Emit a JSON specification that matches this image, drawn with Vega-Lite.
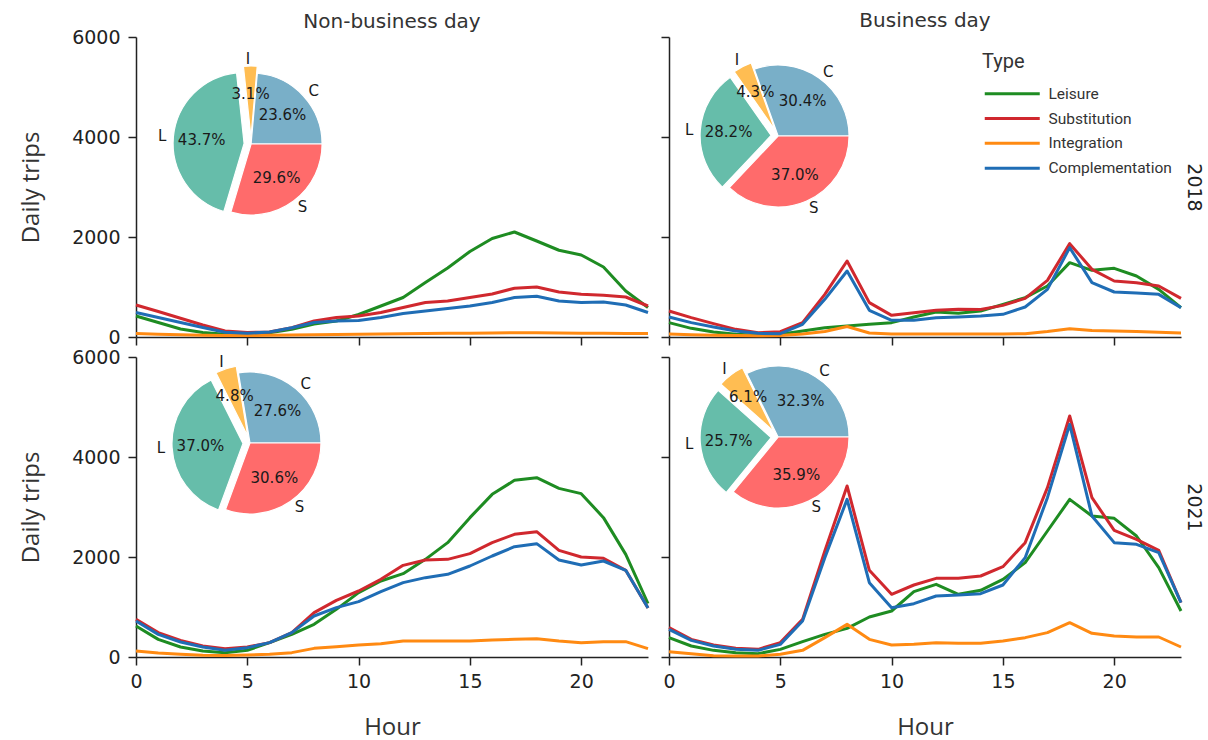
{
  "$schema": "https://vega.github.io/schema/vega-lite/v6.json",
  "background": "white",
  "padding": {"left": 19, "top": 11, "right": 2, "bottom": 2},
  "config": {
    "view": {"stroke": null},
    "font": "DejaVu Sans",
    "axis": {
      "grid": false,
      "domainColor": "#222",
      "domainWidth": 1.5,
      "tickColor": "#222",
      "tickWidth": 1.5,
      "tickSize": 8,
      "labelFont": "DejaVu Sans",
      "labelFontSize": 19,
      "labelColor": "#222",
      "labelFlush": false,
      "titleFont": "Open Sans",
      "titleFontSize": 24,
      "titleFontWeight": "normal",
      "titleColor": "#333"
    },
    "axisX": {"titlePadding": 24, "labelPadding": 7},
    "axisY": {"titlePadding": 28, "labelPadding": 8, "format": "d"},
    "title": {"font": "DejaVu Sans", "fontSize": 20, "fontWeight": "normal", "color": "#333", "frame": "group", "anchor": "middle"}
  },
  "datasets": {
    "lines": [
      {"year": 2018, "day": "Non-business", "hour": 0, "Leisure": 420, "Substitution": 640, "Integration": 70, "Complementation": 490},
      {"year": 2018, "day": "Non-business", "hour": 1, "Leisure": 290, "Substitution": 510, "Integration": 55, "Complementation": 390},
      {"year": 2018, "day": "Non-business", "hour": 2, "Leisure": 160, "Substitution": 375, "Integration": 45, "Complementation": 290},
      {"year": 2018, "day": "Non-business", "hour": 3, "Leisure": 90, "Substitution": 240, "Integration": 35, "Complementation": 190},
      {"year": 2018, "day": "Non-business", "hour": 4, "Leisure": 55, "Substitution": 120, "Integration": 30, "Complementation": 95},
      {"year": 2018, "day": "Non-business", "hour": 5, "Leisure": 45, "Substitution": 90, "Integration": 30, "Complementation": 75},
      {"year": 2018, "day": "Non-business", "hour": 6, "Leisure": 85, "Substitution": 100, "Integration": 35, "Complementation": 100},
      {"year": 2018, "day": "Non-business", "hour": 7, "Leisure": 155, "Substitution": 185, "Integration": 40, "Complementation": 185},
      {"year": 2018, "day": "Non-business", "hour": 8, "Leisure": 260, "Substitution": 320, "Integration": 45, "Complementation": 290},
      {"year": 2018, "day": "Non-business", "hour": 9, "Leisure": 320, "Substitution": 390, "Integration": 50, "Complementation": 320},
      {"year": 2018, "day": "Non-business", "hour": 10, "Leisure": 450, "Substitution": 420, "Integration": 55, "Complementation": 330},
      {"year": 2018, "day": "Non-business", "hour": 11, "Leisure": 620, "Substitution": 490, "Integration": 60, "Complementation": 390},
      {"year": 2018, "day": "Non-business", "hour": 12, "Leisure": 790, "Substitution": 590, "Integration": 65, "Complementation": 470},
      {"year": 2018, "day": "Non-business", "hour": 13, "Leisure": 1090, "Substitution": 690, "Integration": 70, "Complementation": 520},
      {"year": 2018, "day": "Non-business", "hour": 14, "Leisure": 1380, "Substitution": 720, "Integration": 75, "Complementation": 570},
      {"year": 2018, "day": "Non-business", "hour": 15, "Leisure": 1710, "Substitution": 790, "Integration": 75, "Complementation": 620},
      {"year": 2018, "day": "Non-business", "hour": 16, "Leisure": 1970, "Substitution": 860, "Integration": 80, "Complementation": 690},
      {"year": 2018, "day": "Non-business", "hour": 17, "Leisure": 2100, "Substitution": 975, "Integration": 85, "Complementation": 790},
      {"year": 2018, "day": "Non-business", "hour": 18, "Leisure": 1920, "Substitution": 1000, "Integration": 85, "Complementation": 815},
      {"year": 2018, "day": "Non-business", "hour": 19, "Leisure": 1735, "Substitution": 900, "Integration": 80, "Complementation": 720},
      {"year": 2018, "day": "Non-business", "hour": 20, "Leisure": 1640, "Substitution": 855, "Integration": 75, "Complementation": 690},
      {"year": 2018, "day": "Non-business", "hour": 21, "Leisure": 1400, "Substitution": 835, "Integration": 75, "Complementation": 700},
      {"year": 2018, "day": "Non-business", "hour": 22, "Leisure": 920, "Substitution": 800, "Integration": 70, "Complementation": 640},
      {"year": 2018, "day": "Non-business", "hour": 23, "Leisure": 590, "Substitution": 620, "Integration": 70, "Complementation": 490},

      {"year": 2018, "day": "Business", "hour": 0, "Leisure": 287, "Substitution": 520, "Integration": 60, "Complementation": 400},
      {"year": 2018, "day": "Business", "hour": 1, "Leisure": 173, "Substitution": 387, "Integration": 45, "Complementation": 287},
      {"year": 2018, "day": "Business", "hour": 2, "Leisure": 100, "Substitution": 267, "Integration": 35, "Complementation": 200},
      {"year": 2018, "day": "Business", "hour": 3, "Leisure": 53, "Substitution": 153, "Integration": 30, "Complementation": 120},
      {"year": 2018, "day": "Business", "hour": 4, "Leisure": 35, "Substitution": 87, "Integration": 25, "Complementation": 73},
      {"year": 2018, "day": "Business", "hour": 5, "Leisure": 53, "Substitution": 107, "Integration": 30, "Complementation": 67},
      {"year": 2018, "day": "Business", "hour": 6, "Leisure": 120, "Substitution": 287, "Integration": 60, "Complementation": 253},
      {"year": 2018, "day": "Business", "hour": 7, "Leisure": 187, "Substitution": 853, "Integration": 110, "Complementation": 753},
      {"year": 2018, "day": "Business", "hour": 8, "Leisure": 220, "Substitution": 1520, "Integration": 210, "Complementation": 1320},
      {"year": 2018, "day": "Business", "hour": 9, "Leisure": 253, "Substitution": 687, "Integration": 80, "Complementation": 533},
      {"year": 2018, "day": "Business", "hour": 10, "Leisure": 287, "Substitution": 433, "Integration": 60, "Complementation": 333},
      {"year": 2018, "day": "Business", "hour": 11, "Leisure": 400, "Substitution": 487, "Integration": 60, "Complementation": 333},
      {"year": 2018, "day": "Business", "hour": 12, "Leisure": 500, "Substitution": 533, "Integration": 60, "Complementation": 387},
      {"year": 2018, "day": "Business", "hour": 13, "Leisure": 473, "Substitution": 553, "Integration": 60, "Complementation": 400},
      {"year": 2018, "day": "Business", "hour": 14, "Leisure": 520, "Substitution": 549, "Integration": 60, "Complementation": 420},
      {"year": 2018, "day": "Business", "hour": 15, "Leisure": 653, "Substitution": 633, "Integration": 60, "Complementation": 453},
      {"year": 2018, "day": "Business", "hour": 16, "Leisure": 787, "Substitution": 773, "Integration": 65, "Complementation": 600},
      {"year": 2018, "day": "Business", "hour": 17, "Leisure": 1020, "Substitution": 1133, "Integration": 110, "Complementation": 953},
      {"year": 2018, "day": "Business", "hour": 18, "Leisure": 1487, "Substitution": 1867, "Integration": 167, "Complementation": 1787},
      {"year": 2018, "day": "Business", "hour": 19, "Leisure": 1333, "Substitution": 1353, "Integration": 130, "Complementation": 1087},
      {"year": 2018, "day": "Business", "hour": 20, "Leisure": 1373, "Substitution": 1120, "Integration": 120, "Complementation": 900},
      {"year": 2018, "day": "Business", "hour": 21, "Leisure": 1220, "Substitution": 1087, "Integration": 110, "Complementation": 880},
      {"year": 2018, "day": "Business", "hour": 22, "Leisure": 953, "Substitution": 1020, "Integration": 95, "Complementation": 853},
      {"year": 2018, "day": "Business", "hour": 23, "Leisure": 587, "Substitution": 773, "Integration": 80, "Complementation": 587},

      {"year": 2021, "day": "Non-business", "hour": 0, "Leisure": 620, "Substitution": 753, "Integration": 120, "Complementation": 720},
      {"year": 2021, "day": "Non-business", "hour": 1, "Leisure": 353, "Substitution": 487, "Integration": 80, "Complementation": 453},
      {"year": 2021, "day": "Non-business", "hour": 2, "Leisure": 200, "Substitution": 333, "Integration": 53, "Complementation": 300},
      {"year": 2021, "day": "Non-business", "hour": 3, "Leisure": 120, "Substitution": 220, "Integration": 35, "Complementation": 200},
      {"year": 2021, "day": "Non-business", "hour": 4, "Leisure": 87, "Substitution": 167, "Integration": 30, "Complementation": 133},
      {"year": 2021, "day": "Non-business", "hour": 5, "Leisure": 133, "Substitution": 200, "Integration": 40, "Complementation": 187},
      {"year": 2021, "day": "Non-business", "hour": 6, "Leisure": 287, "Substitution": 287, "Integration": 53, "Complementation": 287},
      {"year": 2021, "day": "Non-business", "hour": 7, "Leisure": 453, "Substitution": 487, "Integration": 87, "Complementation": 487},
      {"year": 2021, "day": "Non-business", "hour": 8, "Leisure": 653, "Substitution": 887, "Integration": 173, "Complementation": 820},
      {"year": 2021, "day": "Non-business", "hour": 9, "Leisure": 953, "Substitution": 1133, "Integration": 207, "Complementation": 987},
      {"year": 2021, "day": "Non-business", "hour": 10, "Leisure": 1287, "Substitution": 1320, "Integration": 240, "Complementation": 1107},
      {"year": 2021, "day": "Non-business", "hour": 11, "Leisure": 1520, "Substitution": 1553, "Integration": 267, "Complementation": 1307},
      {"year": 2021, "day": "Non-business", "hour": 12, "Leisure": 1667, "Substitution": 1833, "Integration": 320, "Complementation": 1487},
      {"year": 2021, "day": "Non-business", "hour": 13, "Leisure": 1953, "Substitution": 1940, "Integration": 320, "Complementation": 1587},
      {"year": 2021, "day": "Non-business", "hour": 14, "Leisure": 2287, "Substitution": 1953, "Integration": 320, "Complementation": 1653},
      {"year": 2021, "day": "Non-business", "hour": 15, "Leisure": 2787, "Substitution": 2067, "Integration": 320, "Complementation": 1820},
      {"year": 2021, "day": "Non-business", "hour": 16, "Leisure": 3253, "Substitution": 2287, "Integration": 340, "Complementation": 2020},
      {"year": 2021, "day": "Non-business", "hour": 17, "Leisure": 3533, "Substitution": 2453, "Integration": 353, "Complementation": 2207},
      {"year": 2021, "day": "Non-business", "hour": 18, "Leisure": 3587, "Substitution": 2507, "Integration": 367, "Complementation": 2267},
      {"year": 2021, "day": "Non-business", "hour": 19, "Leisure": 3373, "Substitution": 2133, "Integration": 320, "Complementation": 1940},
      {"year": 2021, "day": "Non-business", "hour": 20, "Leisure": 3267, "Substitution": 2000, "Integration": 287, "Complementation": 1840},
      {"year": 2021, "day": "Non-business", "hour": 21, "Leisure": 2787, "Substitution": 1973, "Integration": 307, "Complementation": 1920},
      {"year": 2021, "day": "Non-business", "hour": 22, "Leisure": 2053, "Substitution": 1733, "Integration": 307, "Complementation": 1733},
      {"year": 2021, "day": "Non-business", "hour": 23, "Leisure": 1070, "Substitution": 980, "Integration": 167, "Complementation": 980},

      {"year": 2021, "day": "Business", "hour": 0, "Leisure": 387, "Substitution": 587, "Integration": 107, "Complementation": 553},
      {"year": 2021, "day": "Business", "hour": 1, "Leisure": 220, "Substitution": 353, "Integration": 67, "Complementation": 333},
      {"year": 2021, "day": "Business", "hour": 2, "Leisure": 133, "Substitution": 240, "Integration": 27, "Complementation": 220},
      {"year": 2021, "day": "Business", "hour": 3, "Leisure": 87, "Substitution": 173, "Integration": 20, "Complementation": 153},
      {"year": 2021, "day": "Business", "hour": 4, "Leisure": 67, "Substitution": 153, "Integration": 20, "Complementation": 133},
      {"year": 2021, "day": "Business", "hour": 5, "Leisure": 153, "Substitution": 287, "Integration": 53, "Complementation": 253},
      {"year": 2021, "day": "Business", "hour": 6, "Leisure": 307, "Substitution": 753, "Integration": 133, "Complementation": 720},
      {"year": 2021, "day": "Business", "hour": 7, "Leisure": 453, "Substitution": 2120, "Integration": 387, "Complementation": 1987},
      {"year": 2021, "day": "Business", "hour": 8, "Leisure": 573, "Substitution": 3420, "Integration": 653, "Complementation": 3153},
      {"year": 2021, "day": "Business", "hour": 9, "Leisure": 800, "Substitution": 1733, "Integration": 353, "Complementation": 1487},
      {"year": 2021, "day": "Business", "hour": 10, "Leisure": 920, "Substitution": 1253, "Integration": 240, "Complementation": 987},
      {"year": 2021, "day": "Business", "hour": 11, "Leisure": 1307, "Substitution": 1440, "Integration": 253, "Complementation": 1067},
      {"year": 2021, "day": "Business", "hour": 12, "Leisure": 1453, "Substitution": 1573, "Integration": 287, "Complementation": 1220},
      {"year": 2021, "day": "Business", "hour": 13, "Leisure": 1253, "Substitution": 1573, "Integration": 273, "Complementation": 1240},
      {"year": 2021, "day": "Business", "hour": 14, "Leisure": 1333, "Substitution": 1620, "Integration": 273, "Complementation": 1267},
      {"year": 2021, "day": "Business", "hour": 15, "Leisure": 1553, "Substitution": 1807, "Integration": 320, "Complementation": 1440},
      {"year": 2021, "day": "Business", "hour": 16, "Leisure": 1887, "Substitution": 2287, "Integration": 387, "Complementation": 1987},
      {"year": 2021, "day": "Business", "hour": 17, "Leisure": 2520, "Substitution": 3387, "Integration": 487, "Complementation": 3187},
      {"year": 2021, "day": "Business", "hour": 18, "Leisure": 3153, "Substitution": 4820, "Integration": 687, "Complementation": 4653},
      {"year": 2021, "day": "Business", "hour": 19, "Leisure": 2820, "Substitution": 3187, "Integration": 473, "Complementation": 2820},
      {"year": 2021, "day": "Business", "hour": 20, "Leisure": 2773, "Substitution": 2533, "Integration": 420, "Complementation": 2287},
      {"year": 2021, "day": "Business", "hour": 21, "Leisure": 2420, "Substitution": 2353, "Integration": 400, "Complementation": 2253},
      {"year": 2021, "day": "Business", "hour": 22, "Leisure": 1787, "Substitution": 2133, "Integration": 400, "Complementation": 2087},
      {"year": 2021, "day": "Business", "hour": 23, "Leisure": 920, "Substitution": 1087, "Integration": 200, "Complementation": 1087}
    ],
    "pie": [
      {"year": 2018, "day": "Non-business", "slice": "C", "share": 0.236},
      {"year": 2018, "day": "Non-business", "slice": "S", "share": 0.296},
      {"year": 2018, "day": "Non-business", "slice": "L", "share": 0.437},
      {"year": 2018, "day": "Non-business", "slice": "I", "share": 0.031},
      {"year": 2018, "day": "Business", "slice": "C", "share": 0.304},
      {"year": 2018, "day": "Business", "slice": "S", "share": 0.370},
      {"year": 2018, "day": "Business", "slice": "L", "share": 0.282},
      {"year": 2018, "day": "Business", "slice": "I", "share": 0.043},
      {"year": 2021, "day": "Non-business", "slice": "C", "share": 0.276},
      {"year": 2021, "day": "Non-business", "slice": "S", "share": 0.306},
      {"year": 2021, "day": "Non-business", "slice": "L", "share": 0.370},
      {"year": 2021, "day": "Non-business", "slice": "I", "share": 0.048},
      {"year": 2021, "day": "Business", "slice": "C", "share": 0.323},
      {"year": 2021, "day": "Business", "slice": "S", "share": 0.359},
      {"year": 2021, "day": "Business", "slice": "L", "share": 0.257},
      {"year": 2021, "day": "Business", "slice": "I", "share": 0.061}
    ]
  },
  "columns": 2,
  "spacing": {"row": 20, "column": 21},
  "bounds": "flush",
  "resolve": {"scale": {"color": "independent"}, "legend": {"color": "independent"}},
  "concat": [
    {
      "width": 512, "height": 300,
      "title": {"text": "Non-business day", "offset": -4},
      "layer": [
        {
          "data": {"name": "lines"},
          "transform": [
            {"filter": "datum.year == 2018 && datum.day == 'Non-business'"},
            {"fold": ["Leisure", "Substitution", "Integration", "Complementation"], "as": ["type", "trips"]}
          ],
          "mark": {"type": "line", "strokeWidth": 3, "strokeJoin": "round"},
          "encoding": {
            "x": {"field": "hour", "type": "quantitative", "scale": {"domain": [0, 23], "nice": false}, "axis": {"values": [0, 5, 10, 15, 20], "labels": false, "title": null}},
            "y": {"field": "trips", "type": "quantitative", "scale": {"domain": [0, 6000], "nice": false}, "axis": {"values": [0, 2000, 4000, 6000], "title": "Daily trips"}},
            "color": {"field": "type", "type": "nominal", "scale": {"domain": ["Leisure", "Substitution", "Integration", "Complementation"], "range": ["#1E8C22", "#D0282E", "#FF8A12", "#1F6DB5"]}, "legend": null}
          }
        },
        {
          "data": {"name": "pie"},
          "transform": [{"filter": "datum.year == 2018 && datum.day == 'Non-business'"}],
          "encoding": {
            "x": {"datum": 5.17, "type": "quantitative"},
            "y": {"datum": 3860, "type": "quantitative"},
            "theta": {"field": "share", "type": "quantitative", "stack": "normalize", "scale": {"domain": [0, 1], "range": [1.5708, 7.854]}},
            "order": {"field": "slice", "sort": "descending"}
          },
          "layer": [
            {"mark": {"type": "arc", "outerRadius": 71, "stroke": "white", "strokeWidth": 1.2},
             "encoding": {"fill": {"field": "slice", "type": "nominal", "scale": {"domain": ["C", "S", "L", "I"], "range": ["#79AFC8", "#FF6B6B", "#66BDAA", "#FFBD52"]}, "legend": null},
                          "opacity": {"condition": {"test": "datum.slice == 'C' || datum.slice == 'S'", "value": 1}, "value": 0}}},
            {"mark": {"type": "arc", "outerRadius": 71, "stroke": "white", "strokeWidth": 1.2, "xOffset": -7.0, "yOffset": -0.6},
             "encoding": {"fill": {"field": "slice", "type": "nominal", "legend": null},
                          "opacity": {"condition": {"test": "datum.slice == 'L'", "value": 1}, "value": 0}}},
            {"mark": {"type": "arc", "outerRadius": 71, "stroke": "white", "strokeWidth": 1.2, "xOffset": -0.1, "yOffset": -7.0},
             "encoding": {"fill": {"field": "slice", "type": "nominal", "legend": null},
                          "opacity": {"condition": {"test": "datum.slice == 'I'", "value": 1}, "value": 0}}},
            {"mark": {"type": "text", "radius": 42.6, "fontSize": 15, "color": "#1a1a1a"},
             "encoding": {"detail": {"field": "slice"}, "text": {"condition": {"test": "datum.slice == 'C' || datum.slice == 'S'", "field": "share", "type": "quantitative", "format": ".1%"}, "value": ""}}},
            {"mark": {"type": "text", "radius": 42.6, "fontSize": 15, "color": "#1a1a1a", "xOffset": -7.0, "yOffset": -0.6},
             "encoding": {"detail": {"field": "slice"}, "text": {"condition": {"test": "datum.slice == 'L'", "field": "share", "type": "quantitative", "format": ".1%"}, "value": ""}}},
            {"mark": {"type": "text", "radius": 42.6, "fontSize": 15, "color": "#1a1a1a", "xOffset": -0.1, "yOffset": -7.0},
             "encoding": {"detail": {"field": "slice"}, "text": {"condition": {"test": "datum.slice == 'I'", "field": "share", "type": "quantitative", "format": ".1%"}, "value": ""}}},
            {"mark": {"type": "text", "radius": 78, "fontSize": 15, "color": "#1a1a1a", "align": "left"},
             "encoding": {"detail": {"field": "slice"}, "text": {"condition": {"test": "datum.slice == 'C' || datum.slice == 'S'", "field": "slice"}, "value": ""}}},
            {"mark": {"type": "text", "radius": 78, "fontSize": 15, "color": "#1a1a1a", "align": "right", "xOffset": -7.0, "yOffset": -0.6},
             "encoding": {"detail": {"field": "slice"}, "text": {"condition": {"test": "datum.slice == 'L'", "field": "slice"}, "value": ""}}},
            {"mark": {"type": "text", "radius": 78, "fontSize": 15, "color": "#1a1a1a", "align": "right", "xOffset": -0.1, "yOffset": -7.0},
             "encoding": {"detail": {"field": "slice"}, "text": {"condition": {"test": "datum.slice == 'I'", "field": "slice"}, "value": ""}}}
          ]
        }
      ]
    },
    {
      "width": 512, "height": 300,
      "title": {"text": "Business day", "offset": 5},
      "resolve": {"axis": {"y": "independent"}},
      "layer": [
        {
          "data": {"name": "lines"},
          "transform": [
            {"filter": "datum.year == 2018 && datum.day == 'Business'"},
            {"fold": ["Leisure", "Substitution", "Integration", "Complementation"], "as": ["type", "trips"]}
          ],
          "mark": {"type": "line", "strokeWidth": 3, "strokeJoin": "round"},
          "encoding": {
            "x": {"field": "hour", "type": "quantitative", "scale": {"domain": [0, 23], "nice": false}, "axis": {"values": [0, 5, 10, 15, 20], "labels": false, "title": null}},
            "y": {"field": "trips", "type": "quantitative", "scale": {"domain": [0, 6000], "nice": false}, "axis": {"orient": "left", "values": [0, 2000, 4000, 6000], "labels": false, "title": null}},
            "color": {"field": "type", "type": "nominal", "scale": {"domain": ["Leisure", "Substitution", "Integration", "Complementation"], "range": ["#1E8C22", "#D0282E", "#FF8A12", "#1F6DB5"]},
                      "legend": {"title": "Type", "orient": "none", "legendX": 313, "legendY": 15, "symbolType": "M-1,0H10", "symbolSize": 100, "symbolStrokeWidth": 3, "labelOffset": 51, "rowPadding": 7.8, "titlePadding": 14, "titleFont": "Roboto", "titleFontSize": 20, "titleFontWeight": "normal", "titleColor": "#333", "labelFont": "Roboto", "labelFontSize": 15.5, "labelColor": "#333"}}
          }
        },
        {
          "data": {"name": "pie"},
          "transform": [{"filter": "datum.year == 2018 && datum.day == 'Business'"}],
          "encoding": {
            "x": {"datum": 4.9, "type": "quantitative"},
            "y": {"datum": 4020, "type": "quantitative", "axis": {"orient": "right", "title": "2018", "labels": false, "ticks": false, "domain": false, "titleAngle": 90, "titlePadding": 2, "titleFont": "DejaVu Sans", "titleFontSize": 19, "titleColor": "#222"}},
            "theta": {"field": "share", "type": "quantitative", "stack": "normalize", "scale": {"domain": [0, 1], "range": [1.5708, 7.854]}},
            "order": {"field": "slice", "sort": "descending"}
          },
          "layer": [
            {"mark": {"type": "arc", "outerRadius": 71, "stroke": "white", "strokeWidth": 1.2},
             "encoding": {"fill": {"field": "slice", "type": "nominal", "scale": {"domain": ["C", "S", "L", "I"], "range": ["#79AFC8", "#FF6B6B", "#66BDAA", "#FFBD52"]}, "legend": null},
                          "opacity": {"condition": {"test": "datum.slice == 'C' || datum.slice == 'S'", "value": 1}, "value": 0}}},
            {"mark": {"type": "arc", "outerRadius": 71, "stroke": "white", "strokeWidth": 1.2, "xOffset": -7.0, "yOffset": -0.5},
             "encoding": {"fill": {"field": "slice", "type": "nominal", "legend": null},
                          "opacity": {"condition": {"test": "datum.slice == 'L'", "value": 1}, "value": 0}}},
            {"mark": {"type": "arc", "outerRadius": 71, "stroke": "white", "strokeWidth": 1.2, "xOffset": -3.2, "yOffset": -6.2},
             "encoding": {"fill": {"field": "slice", "type": "nominal", "legend": null},
                          "opacity": {"condition": {"test": "datum.slice == 'I'", "value": 1}, "value": 0}}},
            {"mark": {"type": "text", "radius": 42.6, "fontSize": 15, "color": "#1a1a1a"},
             "encoding": {"detail": {"field": "slice"}, "text": {"condition": {"test": "datum.slice == 'C' || datum.slice == 'S'", "field": "share", "type": "quantitative", "format": ".1%"}, "value": ""}}},
            {"mark": {"type": "text", "radius": 42.6, "fontSize": 15, "color": "#1a1a1a", "xOffset": -7.0, "yOffset": -0.5},
             "encoding": {"detail": {"field": "slice"}, "text": {"condition": {"test": "datum.slice == 'L'", "field": "share", "type": "quantitative", "format": ".1%"}, "value": ""}}},
            {"mark": {"type": "text", "radius": 42.6, "fontSize": 15, "color": "#1a1a1a", "xOffset": -3.2, "yOffset": -6.2},
             "encoding": {"detail": {"field": "slice"}, "text": {"condition": {"test": "datum.slice == 'I'", "field": "share", "type": "quantitative", "format": ".1%"}, "value": ""}}},
            {"mark": {"type": "text", "radius": 78, "fontSize": 15, "color": "#1a1a1a", "align": "left"},
             "encoding": {"detail": {"field": "slice"}, "text": {"condition": {"test": "datum.slice == 'C' || datum.slice == 'S'", "field": "slice"}, "value": ""}}},
            {"mark": {"type": "text", "radius": 78, "fontSize": 15, "color": "#1a1a1a", "align": "right", "xOffset": -7.0, "yOffset": -0.5},
             "encoding": {"detail": {"field": "slice"}, "text": {"condition": {"test": "datum.slice == 'L'", "field": "slice"}, "value": ""}}},
            {"mark": {"type": "text", "radius": 78, "fontSize": 15, "color": "#1a1a1a", "align": "right", "xOffset": -3.2, "yOffset": -6.2},
             "encoding": {"detail": {"field": "slice"}, "text": {"condition": {"test": "datum.slice == 'I'", "field": "slice"}, "value": ""}}}
          ]
        }
      ]
    },
    {
      "width": 512, "height": 300,
      "layer": [
        {
          "data": {"name": "lines"},
          "transform": [
            {"filter": "datum.year == 2021 && datum.day == 'Non-business'"},
            {"fold": ["Leisure", "Substitution", "Integration", "Complementation"], "as": ["type", "trips"]}
          ],
          "mark": {"type": "line", "strokeWidth": 3, "strokeJoin": "round"},
          "encoding": {
            "x": {"field": "hour", "type": "quantitative", "scale": {"domain": [0, 23], "nice": false}, "axis": {"values": [0, 5, 10, 15, 20], "title": "Hour"}},
            "y": {"field": "trips", "type": "quantitative", "scale": {"domain": [0, 6000], "nice": false}, "axis": {"values": [0, 2000, 4000, 6000], "title": "Daily trips"}},
            "color": {"field": "type", "type": "nominal", "scale": {"domain": ["Leisure", "Substitution", "Integration", "Complementation"], "range": ["#1E8C22", "#D0282E", "#FF8A12", "#1F6DB5"]}, "legend": null}
          }
        },
        {
          "data": {"name": "pie"},
          "transform": [{"filter": "datum.year == 2021 && datum.day == 'Non-business'"}],
          "encoding": {
            "x": {"datum": 5.12, "type": "quantitative"},
            "y": {"datum": 4280, "type": "quantitative"},
            "theta": {"field": "share", "type": "quantitative", "stack": "normalize", "scale": {"domain": [0, 1], "range": [1.5708, 7.854]}},
            "order": {"field": "slice", "sort": "descending"}
          },
          "layer": [
            {"mark": {"type": "arc", "outerRadius": 71, "stroke": "white", "strokeWidth": 1.2},
             "encoding": {"fill": {"field": "slice", "type": "nominal", "scale": {"domain": ["C", "S", "L", "I"], "range": ["#79AFC8", "#FF6B6B", "#66BDAA", "#FFBD52"]}, "legend": null},
                          "opacity": {"condition": {"test": "datum.slice == 'C' || datum.slice == 'S'", "value": 1}, "value": 0}}},
            {"mark": {"type": "arc", "outerRadius": 71, "stroke": "white", "strokeWidth": 1.2, "xOffset": -7.0, "yOffset": 0.4},
             "encoding": {"fill": {"field": "slice", "type": "nominal", "legend": null},
                          "opacity": {"condition": {"test": "datum.slice == 'L'", "value": 1}, "value": 0}}},
            {"mark": {"type": "arc", "outerRadius": 71, "stroke": "white", "strokeWidth": 1.2, "xOffset": -2.2, "yOffset": -6.7},
             "encoding": {"fill": {"field": "slice", "type": "nominal", "legend": null},
                          "opacity": {"condition": {"test": "datum.slice == 'I'", "value": 1}, "value": 0}}},
            {"mark": {"type": "text", "radius": 42.6, "fontSize": 15, "color": "#1a1a1a"},
             "encoding": {"detail": {"field": "slice"}, "text": {"condition": {"test": "datum.slice == 'C' || datum.slice == 'S'", "field": "share", "type": "quantitative", "format": ".1%"}, "value": ""}}},
            {"mark": {"type": "text", "radius": 42.6, "fontSize": 15, "color": "#1a1a1a", "xOffset": -7.0, "yOffset": 0.4},
             "encoding": {"detail": {"field": "slice"}, "text": {"condition": {"test": "datum.slice == 'L'", "field": "share", "type": "quantitative", "format": ".1%"}, "value": ""}}},
            {"mark": {"type": "text", "radius": 42.6, "fontSize": 15, "color": "#1a1a1a", "xOffset": -2.2, "yOffset": -6.7},
             "encoding": {"detail": {"field": "slice"}, "text": {"condition": {"test": "datum.slice == 'I'", "field": "share", "type": "quantitative", "format": ".1%"}, "value": ""}}},
            {"mark": {"type": "text", "radius": 78, "fontSize": 15, "color": "#1a1a1a", "align": "left"},
             "encoding": {"detail": {"field": "slice"}, "text": {"condition": {"test": "datum.slice == 'C' || datum.slice == 'S'", "field": "slice"}, "value": ""}}},
            {"mark": {"type": "text", "radius": 78, "fontSize": 15, "color": "#1a1a1a", "align": "right", "xOffset": -7.0, "yOffset": 0.4},
             "encoding": {"detail": {"field": "slice"}, "text": {"condition": {"test": "datum.slice == 'L'", "field": "slice"}, "value": ""}}},
            {"mark": {"type": "text", "radius": 78, "fontSize": 15, "color": "#1a1a1a", "align": "right", "xOffset": -2.2, "yOffset": -6.7},
             "encoding": {"detail": {"field": "slice"}, "text": {"condition": {"test": "datum.slice == 'I'", "field": "slice"}, "value": ""}}}
          ]
        }
      ]
    },
    {
      "width": 512, "height": 300,
      "resolve": {"axis": {"y": "independent"}},
      "layer": [
        {
          "data": {"name": "lines"},
          "transform": [
            {"filter": "datum.year == 2021 && datum.day == 'Business'"},
            {"fold": ["Leisure", "Substitution", "Integration", "Complementation"], "as": ["type", "trips"]}
          ],
          "mark": {"type": "line", "strokeWidth": 3, "strokeJoin": "round"},
          "encoding": {
            "x": {"field": "hour", "type": "quantitative", "scale": {"domain": [0, 23], "nice": false}, "axis": {"values": [0, 5, 10, 15, 20], "title": "Hour"}},
            "y": {"field": "trips", "type": "quantitative", "scale": {"domain": [0, 6000], "nice": false}, "axis": {"orient": "left", "values": [0, 2000, 4000, 6000], "labels": false, "title": null}},
            "color": {"field": "type", "type": "nominal", "scale": {"domain": ["Leisure", "Substitution", "Integration", "Complementation"], "range": ["#1E8C22", "#D0282E", "#FF8A12", "#1F6DB5"]}, "legend": null}
          }
        },
        {
          "data": {"name": "pie"},
          "transform": [{"filter": "datum.year == 2021 && datum.day == 'Business'"}],
          "encoding": {
            "x": {"datum": 4.9, "type": "quantitative"},
            "y": {"datum": 4400, "type": "quantitative", "axis": {"orient": "right", "title": "2021", "labels": false, "ticks": false, "domain": false, "titleAngle": 90, "titlePadding": 2, "titleFont": "DejaVu Sans", "titleFontSize": 19, "titleColor": "#222"}},
            "theta": {"field": "share", "type": "quantitative", "stack": "normalize", "scale": {"domain": [0, 1], "range": [1.5708, 7.854]}},
            "order": {"field": "slice", "sort": "descending"}
          },
          "layer": [
            {"mark": {"type": "arc", "outerRadius": 71, "stroke": "white", "strokeWidth": 1.2},
             "encoding": {"fill": {"field": "slice", "type": "nominal", "scale": {"domain": ["C", "S", "L", "I"], "range": ["#79AFC8", "#FF6B6B", "#66BDAA", "#FFBD52"]}, "legend": null},
                          "opacity": {"condition": {"test": "datum.slice == 'C' || datum.slice == 'S'", "value": 1}, "value": 0}}},
            {"mark": {"type": "arc", "outerRadius": 71, "stroke": "white", "strokeWidth": 1.2, "xOffset": -7.0, "yOffset": 0.55},
             "encoding": {"fill": {"field": "slice", "type": "nominal", "legend": null},
                          "opacity": {"condition": {"test": "datum.slice == 'L'", "value": 1}, "value": 0}}},
            {"mark": {"type": "arc", "outerRadius": 71, "stroke": "white", "strokeWidth": 1.2, "xOffset": -4.2, "yOffset": -5.6},
             "encoding": {"fill": {"field": "slice", "type": "nominal", "legend": null},
                          "opacity": {"condition": {"test": "datum.slice == 'I'", "value": 1}, "value": 0}}},
            {"mark": {"type": "text", "radius": 42.6, "fontSize": 15, "color": "#1a1a1a"},
             "encoding": {"detail": {"field": "slice"}, "text": {"condition": {"test": "datum.slice == 'C' || datum.slice == 'S'", "field": "share", "type": "quantitative", "format": ".1%"}, "value": ""}}},
            {"mark": {"type": "text", "radius": 42.6, "fontSize": 15, "color": "#1a1a1a", "xOffset": -7.0, "yOffset": 0.55},
             "encoding": {"detail": {"field": "slice"}, "text": {"condition": {"test": "datum.slice == 'L'", "field": "share", "type": "quantitative", "format": ".1%"}, "value": ""}}},
            {"mark": {"type": "text", "radius": 42.6, "fontSize": 15, "color": "#1a1a1a", "xOffset": -4.2, "yOffset": -5.6},
             "encoding": {"detail": {"field": "slice"}, "text": {"condition": {"test": "datum.slice == 'I'", "field": "share", "type": "quantitative", "format": ".1%"}, "value": ""}}},
            {"mark": {"type": "text", "radius": 78, "fontSize": 15, "color": "#1a1a1a", "align": "left"},
             "encoding": {"detail": {"field": "slice"}, "text": {"condition": {"test": "datum.slice == 'C' || datum.slice == 'S'", "field": "slice"}, "value": ""}}},
            {"mark": {"type": "text", "radius": 78, "fontSize": 15, "color": "#1a1a1a", "align": "right", "xOffset": -7.0, "yOffset": 0.55},
             "encoding": {"detail": {"field": "slice"}, "text": {"condition": {"test": "datum.slice == 'L'", "field": "slice"}, "value": ""}}},
            {"mark": {"type": "text", "radius": 78, "fontSize": 15, "color": "#1a1a1a", "align": "right", "xOffset": -4.2, "yOffset": -5.6},
             "encoding": {"detail": {"field": "slice"}, "text": {"condition": {"test": "datum.slice == 'I'", "field": "slice"}, "value": ""}}}
          ]
        }
      ]
    }
  ]
}
